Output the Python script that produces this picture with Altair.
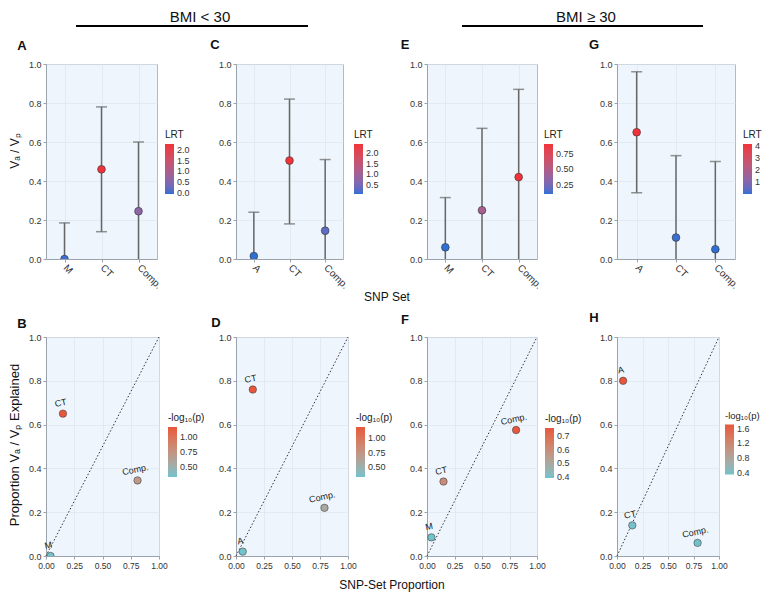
import altair as alt
import pandas as pd

# ---------------- data ----------------
# Top row: heritability estimates (V_A / V_P) with CI and LRT
A_snp = ["M", "CT", "Comp."]
A_val = [0.0, 0.46, 0.245]
A_lo = [0.0, 0.14, 0.0]
A_hi = [0.185, 0.78, 0.60]
A_lrt = [0.0, 2.27, 0.6]

C_snp = ["A", "CT", "Comp."]
C_val = [0.015, 0.505, 0.145]
C_lo = [0.0, 0.18, 0.0]
C_hi = [0.24, 0.82, 0.51]
C_lrt = [0.05, 2.45, 0.3]

E_snp = ["M", "CT", "Comp."]
E_val = [0.06, 0.25, 0.42]
E_lo = [0.0, 0.0, 0.0]
E_hi = [0.315, 0.67, 0.87]
E_lrt = [0.10, 0.45, 0.91]

G_snp = ["A", "CT", "Comp."]
G_val = [0.65, 0.11, 0.05]
G_lo = [0.34, 0.0, 0.0]
G_hi = [0.96, 0.53, 0.50]
G_lrt = [4.15, 0.12, 0.05]

# Bottom row: SNP-set proportion vs proportion of V_A/V_P explained
B_snp = ["M", "CT", "Comp."]
B_prop = [0.04, 0.15, 0.81]
B_expl = [0.0, 0.65, 0.345]
B_logp = [0.34, 1.16, 0.70]

D_snp = ["A", "CT", "Comp."]
D_prop = [0.06, 0.15, 0.79]
D_expl = [0.02, 0.76, 0.22]
D_logp = [0.33, 1.20, 0.58]

F_snp = ["M", "CT", "Comp."]
F_prop = [0.04, 0.15, 0.81]
F_expl = [0.085, 0.34, 0.575]
F_logp = [0.39, 0.60, 0.76]

H_snp = ["A", "CT", "Comp."]
H_prop = [0.06, 0.15, 0.79]
H_expl = [0.80, 0.14, 0.06]
H_logp = [1.71, 0.37, 0.35]

diag_vals = [0.0, 1.0]

y_ticks = [0.0, 0.2, 0.4, 0.6, 0.8, 1.0]
x_ticks = [0.0, 0.25, 0.5, 0.75, 1.0]

FONT = "Liberation Sans"
BG = "#eef5fc"
BORDER = "#b3bac3"
GRID = "#dde5ee"
ERR = "#666666"


def ann(text, x, y, size=12, angle=0, weight="normal"):
    return alt.Chart(pd.DataFrame({"t": [text]})).mark_text(
        fontSize=size, angle=angle, fontWeight=weight, font=FONT,
        align="center", baseline="middle", color="#111"
    ).encode(text="t:N", x=alt.value(x), y=alt.value(y))


def hline(x1, x2, y):
    return alt.Chart(pd.DataFrame({"t": [0]})).mark_rule(
        color="black", strokeWidth=2
    ).encode(x=alt.value(x1), x2=alt.value(x2), y=alt.value(y))


def legend(title, lx, ly, vals, fmt, tsize=10):
    return alt.Legend(
        title=title, orient="none", legendX=lx, legendY=ly, direction="vertical",
        gradientLength=50, gradientThickness=9, gradientStrokeWidth=0,
        values=vals, format=fmt, labelFontSize=9, titleFontSize=tsize,
        titleFontWeight="normal", titlePadding=4, labelOffset=3,
        labelOverlap=False, labelBaseline="middle",
        labelColor="#333", titleColor="#222", labelFont=FONT, titleFont=FONT,
    )


def top_panel(snp, val, lo, hi, lrt, w, h, letter, lxy, legx, lvals, lfmt,
              extras=(), lowpad=0.0):
    df = pd.DataFrame({"snp": snp, "val": val, "lo": lo, "hi": hi, "lrt": lrt})
    cap_snp = list(snp) + [s for s, l in zip(snp, lo) if l > 0]
    cap_y = list(hi) + [l for l in lo if l > 0]
    caps = pd.DataFrame({"snp": cap_snp, "y": cap_y})
    xenc = alt.X("snp:N", sort=snp, scale=alt.Scale(type="point", padding=0.5),
                 axis=alt.Axis(title=None, labelAngle=45, labelAlign="left",
                               labelBaseline="middle", labelFontSize=10,
                               labelPadding=4, grid=True))
    ysc = alt.Scale(domain=[0, 1], nice=False, zero=False)
    yax = alt.Axis(title=None, values=y_ticks, format=".1f", grid=True)
    rule = alt.Chart(df).mark_rule(color=ERR, strokeWidth=1.5).encode(
        x=xenc, y=alt.Y("lo:Q", scale=ysc, axis=yax), y2="hi:Q")
    cap = alt.Chart(caps).mark_tick(color=ERR, size=11, thickness=1.5).encode(
        x=xenc, y=alt.Y("y:Q", scale=ysc, axis=yax))
    pts = alt.Chart(df).mark_circle(size=60, opacity=1, stroke="#333",
                                    strokeWidth=0.6, clip=True).encode(
        x=xenc, y=alt.Y("val:Q", scale=ysc, axis=yax),
        color=alt.Color("lrt:Q",
                        scale=alt.Scale(domain=[min(lrt) - lowpad, max(lrt)],
                                        range=["#2f6fd3", "#f2323a"],
                                        interpolate="lab"),
                        legend=legend("LRT", legx, 66, lvals, lfmt)))
    layers = [rule, cap, pts, ann(letter, lxy[0], lxy[1], 13, 0, "bold")] + list(extras)
    return alt.layer(*layers).properties(
        width=w, height=h,
        view=alt.ViewBackground(fill=BG, stroke=BORDER, strokeWidth=1))


def bot_panel(snp, prop, expl, logp, w, h, letter, lxy, legx, legy, lvals, lfmt,
              extras=(), tsize=10):
    df = pd.DataFrame({"snp": snp, "prop": prop, "expl": expl, "logp": logp})
    diag = pd.DataFrame({"d": diag_vals})
    xsc = alt.Scale(domain=[0, 1], nice=False, zero=False)
    ysc = alt.Scale(domain=[0, 1], nice=False, zero=False)
    xax = alt.Axis(title=None, values=x_ticks, format=".2f", grid=True,
                   labelFontSize=8.5, labelOverlap=False, labelFlush=False)
    yax = alt.Axis(title=None, values=y_ticks, format=".1f", grid=True,
                   labelFlush=False)
    line = alt.Chart(diag).mark_line(color="#333", strokeWidth=1,
                                     strokeDash=[1.5, 2]).encode(
        x=alt.X("d:Q", scale=xsc, axis=xax), y=alt.Y("d:Q", scale=ysc, axis=yax))
    pts = alt.Chart(df).mark_circle(size=55, opacity=1, stroke="#444",
                                    strokeWidth=0.6, clip=True).encode(
        x=alt.X("prop:Q", scale=xsc, axis=xax),
        y=alt.Y("expl:Q", scale=ysc, axis=yax),
        color=alt.Color("logp:Q",
                        scale=alt.Scale(domain=[min(logp), max(logp)],
                                        range=["#72c2cc", "#e8563b"],
                                        interpolate="lab"),
                        legend=legend("-log\u2081\u2080(p)", legx, legy, lvals, lfmt, tsize)))
    lab = alt.Chart(df).mark_text(fontSize=9, angle=348, dy=-11, font=FONT,
                                  color="#222").encode(
        x=alt.X("prop:Q", scale=xsc, axis=xax),
        y=alt.Y("expl:Q", scale=ysc, axis=yax), text="snp:N")
    layers = [line, pts, lab, ann(letter, lxy[0], lxy[1], 13, 0, "bold")] + list(extras)
    return alt.layer(*layers).properties(
        width=w, height=h,
        view=alt.ViewBackground(fill=BG, stroke=BORDER, strokeWidth=1))


def spacer(w, h):
    return alt.Chart(pd.DataFrame({"t": [0]})).mark_point(opacity=0).encode(
        x=alt.value(0), y=alt.value(0)).properties(width=w, height=h)


TH = 195
BH = 219

pA = top_panel(A_snp, A_val, A_lo, A_hi, A_lrt, 111, TH, "A", (-24, -18), 119,
               [0.0, 0.5, 1.0, 1.5, 2.0], ".1f",
               extras=[ann("BMI < 30", 154, -47, 15), hline(30, 262, -38),
                       ann("V\u2090 / V\u209a", -31, 87, 12, 270)],
               lowpad=0.05)
pC = top_panel(C_snp, C_val, C_lo, C_hi, C_lrt, 107, TH, "C", (-21, -19), 118,
               [0.5, 1.0, 1.5, 2.0], ".1f",
               extras=[ann("SNP Set", 151, 233, 12)])
pE = top_panel(E_snp, E_val, E_lo, E_hi, E_lrt, 110, TH, "E", (-22, -19), 117,
               [0.25, 0.5, 0.75], ".2f",
               extras=[ann("BMI \u2265 30", 159, -47, 15), hline(35, 276, -38)])
pG = top_panel(G_snp, G_val, G_lo, G_hi, G_lrt, 118, TH, "G", (-23, -19), 126,
               [1, 2, 3, 4], "d")

pB = bot_panel(B_snp, B_prop, B_expl, B_logp, 113, BH, "B", (-24, -13), 122, 76,
               [0.5, 0.75, 1.0], ".2f",
               extras=[ann("Proportion V\u2090 / V\u209a Explained", -31, 108, 13, 270)])
pD = bot_panel(D_snp, D_prop, D_expl, D_logp, 112, BH, "D", (-20, -14), 120, 76,
               [0.5, 0.75, 1.0], ".2f",
               extras=[ann("SNP-Set Proportion", 156, 248, 12)])
pF = bot_panel(F_snp, F_prop, F_expl, F_logp, 110, BH, "F", (-22, -17), 118, 77,
               [0.4, 0.5, 0.6, 0.7], ".1f")
pH = bot_panel(H_snp, H_prop, H_expl, H_logp, 102, BH, "H", (-23, -19), 108, 74,
               [0.4, 0.8, 1.2, 1.6], ".1f", tsize=9.5)

# grid: panel, spacer, panel, spacer, panel, spacer, panel (columns shared by rows)
cells = [pA, spacer(77, TH), pC, spacer(79, TH), pE, spacer(80, TH), pG,
         pB, spacer(77, BH), pD, spacer(79, BH), pF, spacer(80, BH), pH]

chart = alt.concat(
    *cells, columns=7,
    spacing=alt.RowColnumber(row=78, column=0),
    bounds="flush",
    align=alt.RowColLayoutAlign(row="each", column="none"),
).resolve_scale(color="independent").resolve_legend(color="independent").properties(
    autosize=alt.AutoSizeParams(type="none"),
    padding={"left": 38, "top": 56, "right": 716, "bottom": 528},
).configure(
    font=FONT, background="white"
).configure_view(
    stroke="transparent"
).configure_axis(
    labelFont=FONT, labelFontSize=9, labelColor="#333", domainColor="#9aa3ad",
    tickColor="#9aa3ad", tickSize=3, gridColor=GRID, gridWidth=0.7,
    labelPadding=2
)

chart.save("out.html", embed_options={"renderer": "svg", "actions": False})
